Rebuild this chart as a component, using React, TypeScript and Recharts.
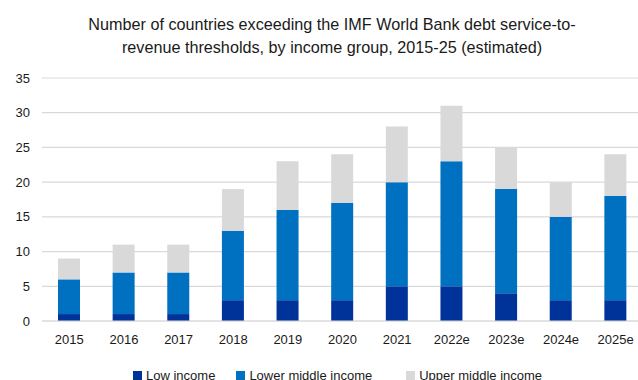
import React from 'react';
import { BarChart, Bar, XAxis, YAxis, CartesianGrid, Legend } from 'recharts';

const years = ['2015', '2016', '2017', '2018', '2019', '2020', '2021', '2022e', '2023e', '2024e', '2025e'];
const lowIncome = [1, 1, 1, 3, 3, 3, 5, 5, 4, 3, 3];
const lowerMiddle = [5, 6, 6, 10, 13, 14, 15, 18, 15, 12, 15];
const upperMiddle = [3, 4, 4, 6, 7, 7, 8, 8, 6, 5, 6];
const yTicks = [0, 5, 10, 15, 20, 25, 30, 35];

const seriesInfo = [
  { key: 'low', name: 'Low income', color: '#00339A' },
  { key: 'lmid', name: 'Lower middle income', color: '#0070C0' },
  { key: 'umid', name: 'Upper middle income', color: '#D9D9D9' },
];

const data = years.map((y, i) => ({
  year: y,
  low: lowIncome[i],
  lmid: lowerMiddle[i],
  umid: upperMiddle[i],
}));

const font = '"Liberation Sans", Arial, sans-serif';
const legendGaps = [21, 34, 0];

const LegendContent = () => (
  <div style={{ display: 'flex', justifyContent: 'flex-start', fontFamily: font, fontSize: 13, color: '#1a1a1a', paddingLeft: 133 }}>
    {seriesInfo.map((s, i) => (
      <div key={s.key} style={{ display: 'flex', alignItems: 'center', marginRight: legendGaps[i] }}>
        <span style={{ display: 'inline-block', width: 9, height: 9, background: s.color, marginRight: 4 }} />
        <span>{s.name}</span>
      </div>
    ))}
  </div>
);

export default function App() {
  return (
    <div style={{ position: 'fixed', left: 0, top: 0, width: 638, height: 380, overflow: 'hidden', background: '#fff' }}>
      <div style={{ position: 'absolute', left: 0, top: 13, width: 664, textAlign: 'center', fontFamily: font, fontSize: 16.2, lineHeight: '23px', color: '#1a1a1a' }}>
        <div>Number of countries exceeding the IMF World Bank debt service-to-</div>
        <div>revenue thresholds, by income group, 2015-25 (estimated)</div>
      </div>
      <div style={{ position: 'absolute', left: 0, top: 0 }}>
        <BarChart width={646} height={400} data={data} margin={{ top: 78, right: 3, bottom: 0, left: 0 }}>
          <CartesianGrid vertical={false} stroke="#D9D9D9" strokeWidth={1.2} />
          <XAxis
            dataKey="year"
            tickLine={false}
            axisLine={{ stroke: '#D9D9D9', strokeWidth: 1.2 }}
            tick={{ fontSize: 13, fill: '#1a1a1a', fontFamily: font }}
            tickMargin={8}
            height={64}
          />
          <YAxis
            width={42}
            domain={[0, 35]}
            ticks={yTicks}
            tickLine={false}
            axisLine={false}
            tickMargin={6}
            tick={{ fontSize: 13, fill: '#1a1a1a', fontFamily: font }}
          />
          {seriesInfo.map((s) => (
            <Bar key={s.key} dataKey={s.key} name={s.name} stackId="a" fill={s.color} barSize={22} isAnimationActive={false} />
          ))}
          <Legend content={<LegendContent />} wrapperStyle={{ position: 'absolute', top: 368, left: 0, width: 638 }} />
        </BarChart>
      </div>
    </div>
  );
}
